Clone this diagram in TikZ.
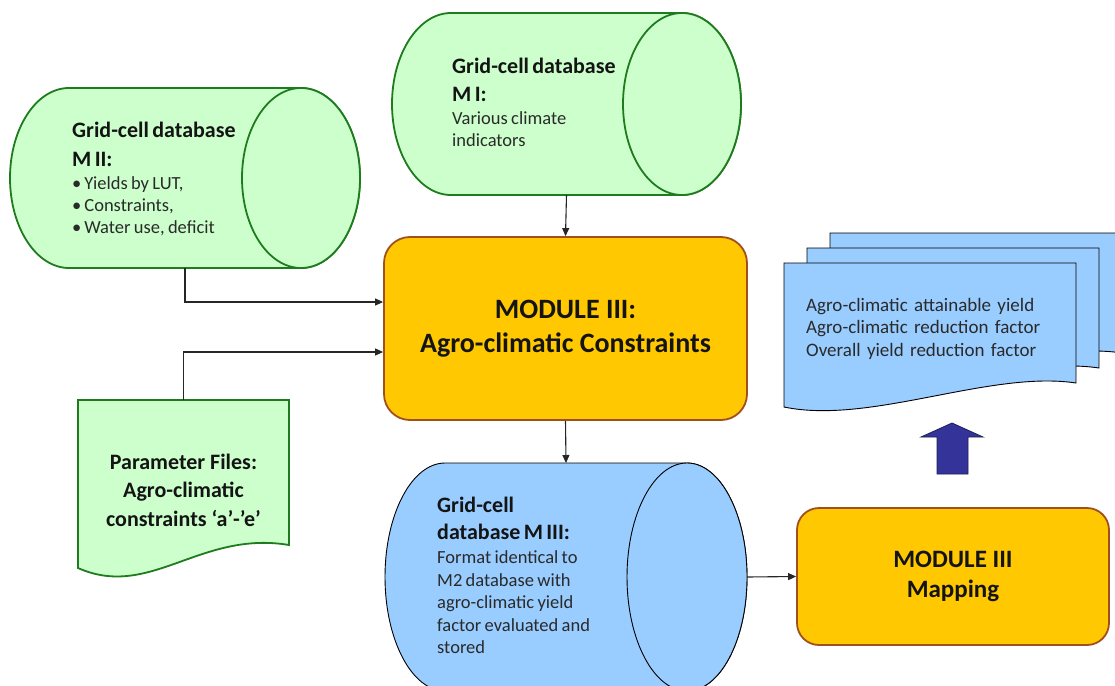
\documentclass[tikz,border=0pt]{standalone}
\usepackage{fontspec}
\setmainfont{Carlito}
\usetikzlibrary{arrows.meta}
\definecolor{gfill}{HTML}{CCFFCC}
\definecolor{gline}{HTML}{1E7B1E}
\definecolor{bfill}{HTML}{99CCFF}
\definecolor{ofill}{HTML}{FFC800}
\definecolor{oline}{HTML}{A0501E}
\definecolor{navy}{HTML}{333399}
\definecolor{txt}{HTML}{141414}
\definecolor{btxt}{HTML}{2A2A2A}
% #1 left x, #2 right x, #3 centre y, #4 x radius, #5 y radius, #6 style
\newcommand{\dbcyl}[6]{%
  \filldraw[#6] (#1+#4,#3-#5) -- (#2-#4,#3-#5)
    arc[start angle=270,end angle=450,x radius=#4,y radius=#5]
    -- (#1+#4,#3+#5)
    arc[start angle=90,end angle=270,x radius=#4,y radius=#5] -- cycle;
  \draw[#6] (#2-#4,#3) ellipse[x radius=#4,y radius=#5];
}
\tikzset{
  greencyl/.style={fill=gfill,draw=gline,line width=1.8pt},
  bluecyl/.style={fill=bfill,draw=black,line width=0.9pt},
  shapebox/.style={inner sep=0pt,outer sep=0pt,draw=none},
  modbox/.style={fill=ofill,draw=oline,line width=1.8pt,rounded corners=26pt,
     align=center,text=txt,font=\fontsize{28}{34}\selectfont\bfseries},
  mapbox/.style={fill=ofill,draw=oline,line width=1.8pt,rounded corners=22pt,
     align=center,text=txt,font=\fontsize{25}{30}\selectfont\bfseries},
  docpage/.style={fill=bfill,draw=black,line width=0.9pt},
  ltext/.style={inner sep=0pt,anchor=base west,align=left,text=txt},
  conn/.style={draw=black!85,line width=1.1pt,-{Triangle[length=8pt,width=7pt]}},
  blockarrow/.style={fill=navy,draw=navy!60!black,line width=0.8pt},
}
\begin{document}
\begin{tikzpicture}[x=1pt,y=-1pt]
\useasboundingbox (0,0) rectangle (1115,685);
\fill[white] (0,0) rectangle (1115,685);

% ---- Grid-cell database M II
\dbcyl{10}{360}{178}{59}{90}{greencyl}
\node[shapebox,minimum width=350pt,minimum height=180pt] (m2) at (185,178) {};
\node[ltext,text width=250pt] (m2t) at (72,137)
 {{\fontsize{22}{29}\selectfont\bfseries Grid-cell database\\M II:\par}
  \vspace{1.5pt}
  {\fontsize{18.5}{22}\selectfont\color{btxt}•\hspace{3pt}Yields by LUT,\\
   •\hspace{3pt}Constraints,\\
   •\hspace{3pt}Water use, deficit\par}};

% ---- Grid-cell database M I
\dbcyl{392}{741}{104}{59}{91}{greencyl}
\node[shapebox,minimum width=349pt,minimum height=182pt] (m1) at (566.5,104) {};
\node[ltext,text width=250pt] (m1t) at (452,74)
 {{\fontsize{22}{28}\selectfont\bfseries Grid-cell database\\M I:\par}
  {\fontsize{18.5}{22.5}\selectfont\color{btxt}Various climate\\indicators\par}};

% ---- Module III
\node[modbox,minimum width=363pt,minimum height=183pt] (mod) at (565.5,328.5)
 {MODULE III:\\Agro-climatic Constraints};

% ---- Parameter files
\filldraw[greencyl] (78,400) -- (289,400) -- (289,545)
   .. controls (200,530) and (150,600) .. (78,568) -- cycle;
\node[shapebox,minimum width=211pt,minimum height=168pt] (pf) at (183.5,484) {};
\node[inner sep=0pt,align=center,text=txt,font=\fontsize{22}{28.5}\selectfont\bfseries]
  (pft) at (183.5,490) {Parameter Files:\\Agro-climatic\\constraints ‘a’-’e’};

% ---- Grid-cell database M III
\dbcyl{385}{747}{577}{60}{114}{bluecyl}
\node[shapebox,minimum width=362pt,minimum height=228pt] (m3) at (566,577) {};
\node[ltext,text width=250pt] (m3t) at (437,512)
 {{\fontsize{22}{27}\selectfont\bfseries Grid-cell\\database M III:\par}
  \vspace{2pt}
  {\fontsize{18.5}{22.5}\selectfont\color{btxt}Format identical to\\M2 database with\\
   agro-climatic yield\\factor evaluated and\\stored\par}};

% ---- Module III Mapping
\node[mapbox,minimum width=312pt,minimum height=137pt] (map) at (953,576.5)
 {MODULE III\\Mapping};

% ---- Output documents
\begin{scope}[shift={(46,-30)}]
 \filldraw[docpage] (784,263) -- (1076,263) -- (1076,383)
   .. controls (990,370) and (870,425) .. (784,407) -- cycle;
\end{scope}
\begin{scope}[shift={(23,-15)}]
 \filldraw[docpage] (784,263) -- (1076,263) -- (1076,383)
   .. controls (990,370) and (870,425) .. (784,407) -- cycle;
\end{scope}
\filldraw[docpage] (784,263) -- (1076,263) -- (1076,383)
   .. controls (990,370) and (870,425) .. (784,407) -- cycle;
\node[shapebox,minimum width=292pt,minimum height=150pt] (doc) at (930,335) {};
\node[ltext,text width=280pt,font=\fontsize{19}{22.5}\selectfont,text=btxt] (doct) at (806,311)
 {Agro-climatic attainable yield\\Agro-climatic reduction factor\\Overall yield reduction factor};

% ---- block arrow
\filldraw[blockarrow] (952,423) -- (983,437) -- (968,437) -- (968,474)
   -- (937,474) -- (937,437) -- (921,437) -- cycle;

% ---- connectors
\draw[conn] (m1.south) -- (mod.north);
\draw[conn] (m2.south) |- ([yshift=26.5pt]mod.west);
\draw[conn] (pf.north) |- ([yshift=-23.5pt]mod.west);
\draw[conn] (mod.south) -- (m3.north);
\draw[conn] (m3.east) -- (map.west);
\end{tikzpicture}
\end{document}
